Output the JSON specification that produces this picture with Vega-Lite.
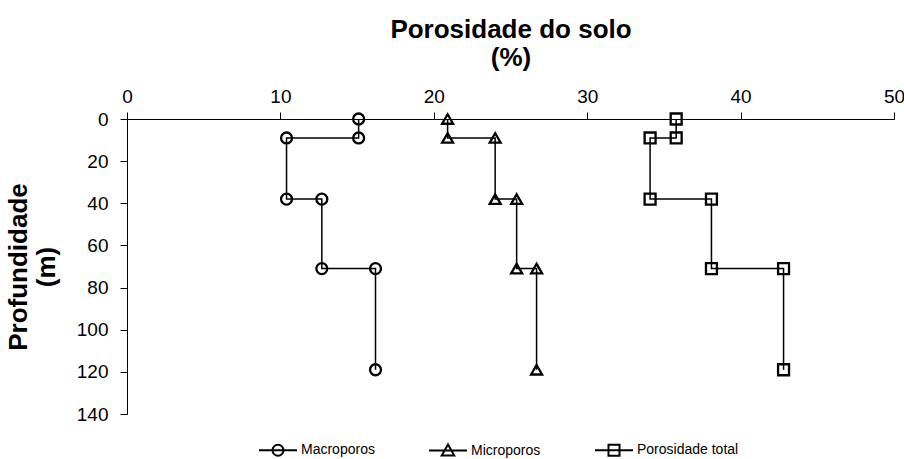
{
  "$schema": "https://vega.github.io/schema/vega-lite/v6.json",
  "width": 767,
  "height": 295,
  "autosize": {"type": "none"},
  "padding": {"left": 127, "top": 119, "right": 10, "bottom": 45},
  "background": "white",
  "config": {
    "view": {"stroke": null},
    "font": "Liberation Sans"
  },
  "data": {
    "values": [
      {"serie": "Macroporos", "ord": 1, "porosidade": 15.1, "profundidade": 0},
      {"serie": "Macroporos", "ord": 2, "porosidade": 15.1, "profundidade": 9},
      {"serie": "Macroporos", "ord": 3, "porosidade": 10.4, "profundidade": 9},
      {"serie": "Macroporos", "ord": 4, "porosidade": 10.4, "profundidade": 38},
      {"serie": "Macroporos", "ord": 5, "porosidade": 12.7, "profundidade": 38},
      {"serie": "Macroporos", "ord": 6, "porosidade": 12.7, "profundidade": 71},
      {"serie": "Macroporos", "ord": 7, "porosidade": 16.2, "profundidade": 71},
      {"serie": "Macroporos", "ord": 8, "porosidade": 16.2, "profundidade": 119},
      {"serie": "Microporos", "ord": 1, "porosidade": 20.9, "profundidade": 0},
      {"serie": "Microporos", "ord": 2, "porosidade": 20.9, "profundidade": 9},
      {"serie": "Microporos", "ord": 3, "porosidade": 24.0, "profundidade": 9},
      {"serie": "Microporos", "ord": 4, "porosidade": 24.0, "profundidade": 38},
      {"serie": "Microporos", "ord": 5, "porosidade": 25.4, "profundidade": 38},
      {"serie": "Microporos", "ord": 6, "porosidade": 25.4, "profundidade": 71},
      {"serie": "Microporos", "ord": 7, "porosidade": 26.7, "profundidade": 71},
      {"serie": "Microporos", "ord": 8, "porosidade": 26.7, "profundidade": 119},
      {"serie": "Porosidade total", "ord": 1, "porosidade": 35.8, "profundidade": 0},
      {"serie": "Porosidade total", "ord": 2, "porosidade": 35.8, "profundidade": 9},
      {"serie": "Porosidade total", "ord": 3, "porosidade": 34.1, "profundidade": 9},
      {"serie": "Porosidade total", "ord": 4, "porosidade": 34.1, "profundidade": 38},
      {"serie": "Porosidade total", "ord": 5, "porosidade": 38.1, "profundidade": 38},
      {"serie": "Porosidade total", "ord": 6, "porosidade": 38.1, "profundidade": 71},
      {"serie": "Porosidade total", "ord": 7, "porosidade": 42.8, "profundidade": 71},
      {"serie": "Porosidade total", "ord": 8, "porosidade": 42.8, "profundidade": 119}
    ]
  },
  "encoding": {
    "x": {
      "field": "porosidade",
      "type": "quantitative",
      "scale": {"domain": [0, 50], "nice": false, "zero": false},
      "axis": {
        "orient": "top",
        "values": [0, 10, 20, 30, 40, 50],
        "grid": false,
        "domainColor": "black",
        "domainWidth": 1,
        "tickColor": "black",
        "tickSize": 7,
        "labelFontSize": 19,
        "labelColor": "black",
        "labelPadding": 6,
        "labelFlush": false,
        "title": ["Porosidade do solo", "(%)"],
        "titleFontSize": 26,
        "titleFontWeight": "bold",
        "titleColor": "black",
        "titlePadding": 17,
        "titleLineHeight": 28
      }
    },
    "y": {
      "field": "profundidade",
      "type": "quantitative",
      "scale": {"domain": [0, 140], "reverse": true, "nice": false, "zero": false},
      "axis": {
        "orient": "left",
        "values": [0, 20, 40, 60, 80, 100, 120, 140],
        "grid": false,
        "domainColor": "black",
        "domainWidth": 1,
        "tickColor": "black",
        "tickSize": 7,
        "labelFontSize": 19,
        "labelColor": "black",
        "labelPadding": 12,
        "labelFlush": false,
        "title": ["Profundidade", "(m)"],
        "titleFontSize": 26,
        "titleFontWeight": "bold",
        "titleColor": "black",
        "titlePadding": 17,
        "titleLineHeight": 28
      }
    }
  },
  "layer": [
    {
      "mark": {"type": "line", "color": "black", "strokeWidth": 1.5},
      "encoding": {
        "detail": {"field": "serie", "type": "nominal"},
        "order": {"field": "ord", "type": "quantitative"}
      }
    },
    {
      "mark": {"type": "point", "filled": false, "color": "black", "strokeWidth": 2.3, "size": 120, "opacity": 1},
      "encoding": {
        "shape": {
          "field": "serie",
          "type": "nominal",
          "scale": {"domain": ["Macroporos", "Microporos", "Porosidade total"], "range": ["circle", "triangle-up", "square"]},
          "legend": null
        }
      }
    },
    {
      "mark": {"type": "point", "filled": false, "color": "black", "opacity": 0},
      "encoding": {
        "shape": {
          "field": "serie",
          "type": "nominal",
          "scale": {
            "domain": ["Macroporos", "Microporos", "Porosidade total"],
            "range": [
              "M-1,0H1M0.29,0A0.29,0.29,0,1,1,-0.29,0A0.29,0.29,0,1,1,0.29,0Z",
              "M-1,0H1M0,-0.32L0.33,0.26L-0.33,0.26Z",
              "M-1,0H1M-0.29,-0.29H0.29V0.29H-0.29Z"
            ]
          },
          "legend": {
            "orient": "none",
            "legendX": 131,
            "legendY": 311,
            "direction": "horizontal",
            "title": null,
            "padding": 0,
            "symbolSize": 1444,
            "symbolStrokeWidth": 2,
            "symbolStrokeColor": "black",
            "symbolOpacity": 1,
            "labelFontSize": 14,
            "labelColor": "black",
            "labelOffset": 3,
            "columnPadding": 50
          }
        }
      }
    }
  ],
  "resolve": {"scale": {"shape": "independent"}, "legend": {"shape": "independent"}}
}
